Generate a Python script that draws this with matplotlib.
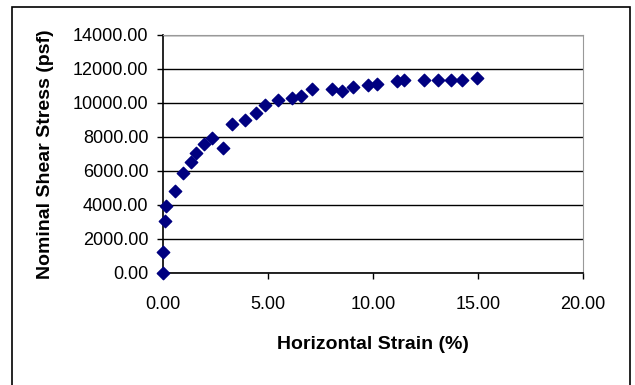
import matplotlib.pyplot as plt
import matplotlib.ticker as ticker
from matplotlib.patches import Rectangle

plt.rcParams['font.family'] = ['Liberation Sans', 'DejaVu Sans']

# horizontal strain (%) and nominal shear stress (psf)
strain = [0.00, 0.00, 0.08, 0.15, 0.56, 0.96, 1.31, 1.58, 1.93, 2.33, 2.84,
          3.28, 3.88, 4.40, 4.86, 5.46, 6.15, 6.56, 7.08, 8.04, 8.54, 9.06,
          9.74, 10.20, 11.15, 11.48, 12.42, 13.10, 13.73, 14.23, 14.95]
stress = [0, 1210, 3030, 3910, 4790, 5860, 6510, 7040, 7580, 7940, 7370,
          8760, 8990, 9380, 9850, 10160, 10280, 10380, 10810, 10810, 10690, 10930,
          11020, 11120, 11260, 11340, 11340, 11340, 11340, 11340, 11460]

fig = plt.figure(figsize=(6.35, 3.85), dpi=100)
ax = fig.add_axes([0.257, 0.291, 0.661, 0.619])

# outer chart frame (bottom edge runs off the picture)
fig.patches.append(Rectangle((12/635, -0.05), (630-12)/635, 1.05-7/385, transform=fig.transFigure,
                             fill=False, edgecolor='black', linewidth=1.2))

ax.scatter(strain, stress, marker='D', s=40, color='#000080', zorder=3, clip_on=False)

ax.set_xlim(0, 20)
ax.set_ylim(0, 14000)
ax.xaxis.set_major_locator(ticker.MultipleLocator(5))
ax.yaxis.set_major_locator(ticker.MultipleLocator(2000))
ax.xaxis.set_major_formatter(ticker.FormatStrFormatter('%.2f'))
ax.yaxis.set_major_formatter(ticker.FormatStrFormatter('%.2f'))
ax.tick_params(direction='out', length=4.5, width=1, color='black', labelsize=13)
ax.tick_params(axis='y', pad=6)
ax.tick_params(axis='x', pad=12)
ax.grid(axis='y', color='black', linewidth=1)
ax.set_axisbelow(True)

for s in ['top', 'right']:
    ax.spines[s].set_color('#999999')
for s in ['left', 'bottom']:
    ax.spines[s].set_color('black')
    ax.spines[s].set_linewidth(1.2)

ax.set_xlabel('Horizontal Strain (%)', fontsize=14, fontweight='bold', labelpad=17)
ax.set_ylabel('Nominal Shear Stress (psf)', fontsize=14, fontweight='bold', labelpad=14)

fig.savefig('out.png', dpi=100)
